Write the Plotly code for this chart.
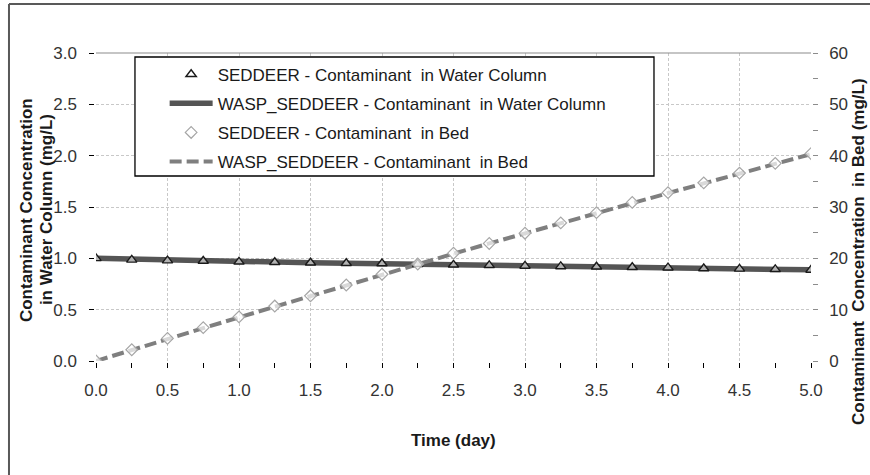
import plotly.graph_objects as go

# Time axis (days)
time_day = [0.0, 0.25, 0.5, 0.75, 1.0, 1.25, 1.5, 1.75, 2.0, 2.25, 2.5,
            2.75, 3.0, 3.25, 3.5, 3.75, 4.0, 4.25, 4.5, 4.75, 5.0]

# Contaminant in water column (mg/L), left axis
water_seddeer = [1.000, 0.985, 0.978, 0.974, 0.966, 0.962, 0.957, 0.952, 0.950, 0.943, 0.937,
                 0.932, 0.926, 0.921, 0.918, 0.913, 0.909, 0.901, 0.897, 0.893, 0.887]
water_wasp = [1.000, 0.991, 0.983, 0.976, 0.969, 0.963, 0.957, 0.952, 0.947, 0.942, 0.937,
              0.932, 0.927, 0.922, 0.918, 0.913, 0.908, 0.903, 0.898, 0.893, 0.888]

# Contaminant in bed (mg/L), right axis
bed_seddeer = [0.0, 2.2, 4.4, 6.5, 8.6, 10.7, 12.7, 14.8, 16.9, 18.9, 21.0,
               22.9, 24.9, 26.9, 28.9, 30.9, 32.8, 34.7, 36.6, 38.5, 40.4]
bed_wasp = [0.0, 2.2, 4.3, 6.4, 8.5, 10.6, 12.7, 14.8, 16.8, 18.9, 20.9,
            22.9, 24.9, 26.9, 28.8, 30.8, 32.7, 34.6, 36.5, 38.4, 40.3]

series_names = [
    "SEDDEER - Contaminant  in Water Column",
    "WASP_SEDDEER - Contaminant  in Water Column",
    "SEDDEER - Contaminant  in Bed",
    "WASP_SEDDEER - Contaminant  in Bed",
]

FONT = "Liberation Sans, Arial, sans-serif"
TICK_FONT = dict(family=FONT, size=17, color="#333333")
TITLE_FONT = dict(family=FONT, size=17, color="#1a1a1a")

fig = go.Figure()

fig.add_trace(go.Scatter(
    x=time_day, y=water_seddeer, name=series_names[0], mode="markers",
    marker=dict(symbol="triangle-up", size=9, color="rgba(255,255,255,0.55)",
                line=dict(color="#1a1a1a", width=1.4)),
    cliponaxis=False, zorder=2, legendgroup="g1", yaxis="y",
))
fig.add_trace(go.Scatter(
    x=time_day, y=water_wasp, name=series_names[1], mode="lines",
    line=dict(color="#555555", width=5.5),
    cliponaxis=False, zorder=1, legendgroup="g2", yaxis="y",
))
fig.add_trace(go.Scatter(
    x=time_day, y=bed_seddeer, name=series_names[2], mode="markers",
    marker=dict(symbol="diamond", size=9, color="rgba(255,255,255,0.7)",
                line=dict(color="#a6a6a6", width=1.2)),
    cliponaxis=False, zorder=2, legendgroup="g3", yaxis="y2",
))
fig.add_trace(go.Scatter(
    x=time_day, y=bed_wasp, name=series_names[3], mode="lines",
    line=dict(color="#7f7f7f", width=4, dash="12px,5px"),
    cliponaxis=False, zorder=1, legendgroup="g4", yaxis="y2",
))

grid = dict(showgrid=True, gridcolor="#c8c8c8", gridwidth=1, griddash="3px,2px")

fig.update_layout(
    width=870, height=475,
    margin=dict(l=96, r=59, t=53, b=114),
    paper_bgcolor="white", plot_bgcolor="white",
    font=dict(family=FONT, size=17, color="#333333"),
    showlegend=True,
    legend=dict(
        x=0.096, y=0.988, xanchor="left", yanchor="top",
        bgcolor="rgba(0,0,0,0)", borderwidth=0,
        traceorder="grouped", tracegroupgap=4, itemwidth=43,
        font=dict(family=FONT, size=17, color="#1a1a1a"),
    ),
    xaxis=dict(
        range=[0, 5], tick0=0, dtick=0.5, tickformat=".1f",
        showline=True, linecolor="black", linewidth=1.5, zeroline=False,
        ticks="outside", ticklen=5, tickcolor="black", tickwidth=1.2,
        minor=dict(dtick=0.25, ticks="outside", ticklen=5, tickcolor="black",
                   tickwidth=1.2, showgrid=False),
        tickfont=TICK_FONT, ticklabelstandoff=8, automargin=False,
        **grid,
    ),
    yaxis=dict(
        range=[0, 3], tick0=0, dtick=0.5, tickformat=".1f",
        showline=True, linecolor="black", linewidth=1.5, zeroline=False,
        ticks="outside", ticklen=5, tickcolor="black", tickwidth=1.2,
        tickfont=TICK_FONT, ticklabelstandoff=9, automargin=False,
        **grid,
    ),
    yaxis2=dict(
        range=[0, 60], tick0=0, dtick=10, overlaying="y", side="right",
        showline=True, linecolor="#8c8c8c", linewidth=1.5, zeroline=False,
        showgrid=False,
        ticks="outside", ticklen=5, tickcolor="#8c8c8c", tickwidth=1.2,
        minor=dict(dtick=5, ticks="outside", ticklen=5, tickcolor="#8c8c8c",
                   tickwidth=1.2, showgrid=False),
        tickfont=TICK_FONT, ticklabelstandoff=8, automargin=False,
    ),
    shapes=[
        # top edge of plotting area
        dict(type="line", xref="paper", yref="paper", x0=0, x1=1, y0=1, y1=1,
             line=dict(color="#8c8c8c", width=1.2), layer="above"),
        # legend frame
        dict(type="rect", xref="paper", yref="paper",
             x0=0.0545, x1=0.7804, y0=0.6006, y1=0.987,
             line=dict(color="black", width=1.3), fillcolor="white", layer="above"),
        # chart frame (top and left edges)
        dict(type="line", xref="paper", yref="paper",
             x0=-0.1217, x1=1.0825, y0=1.159, y1=1.159,
             line=dict(color="#595959", width=2)),
        dict(type="line", xref="paper", yref="paper",
             x0=-0.1217, x1=-0.1217, y0=1.159, y1=-0.37,
             line=dict(color="#595959", width=2)),
    ],
    annotations=[
        dict(text="<b>Time (day)</b>", xref="paper", yref="paper",
             x=0.5, y=-0.2597, xanchor="center", yanchor="middle",
             showarrow=False, font=TITLE_FONT),
        # left axis title, two lines
        dict(text="<b>Contaminant Concentration</b>",
             xref="paper", yref="paper", x=-0.0979, y=0.49,
             xanchor="center", yanchor="middle", textangle=-90,
             showarrow=False, font=TITLE_FONT),
        dict(text="<b>in Water Column (mg/L)</b>",
             xref="paper", yref="paper", x=-0.0699, y=0.49,
             xanchor="center", yanchor="middle", textangle=-90,
             showarrow=False, font=TITLE_FONT),
        dict(text="<b>Contaminant  Concentration  in Bed (mg/L)</b>",
             xref="paper", yref="paper", x=1.0657, y=0.357,
             xanchor="center", yanchor="middle", textangle=-90,
             showarrow=False, font=TITLE_FONT),
    ],
)

fig.write_html("out.html")
